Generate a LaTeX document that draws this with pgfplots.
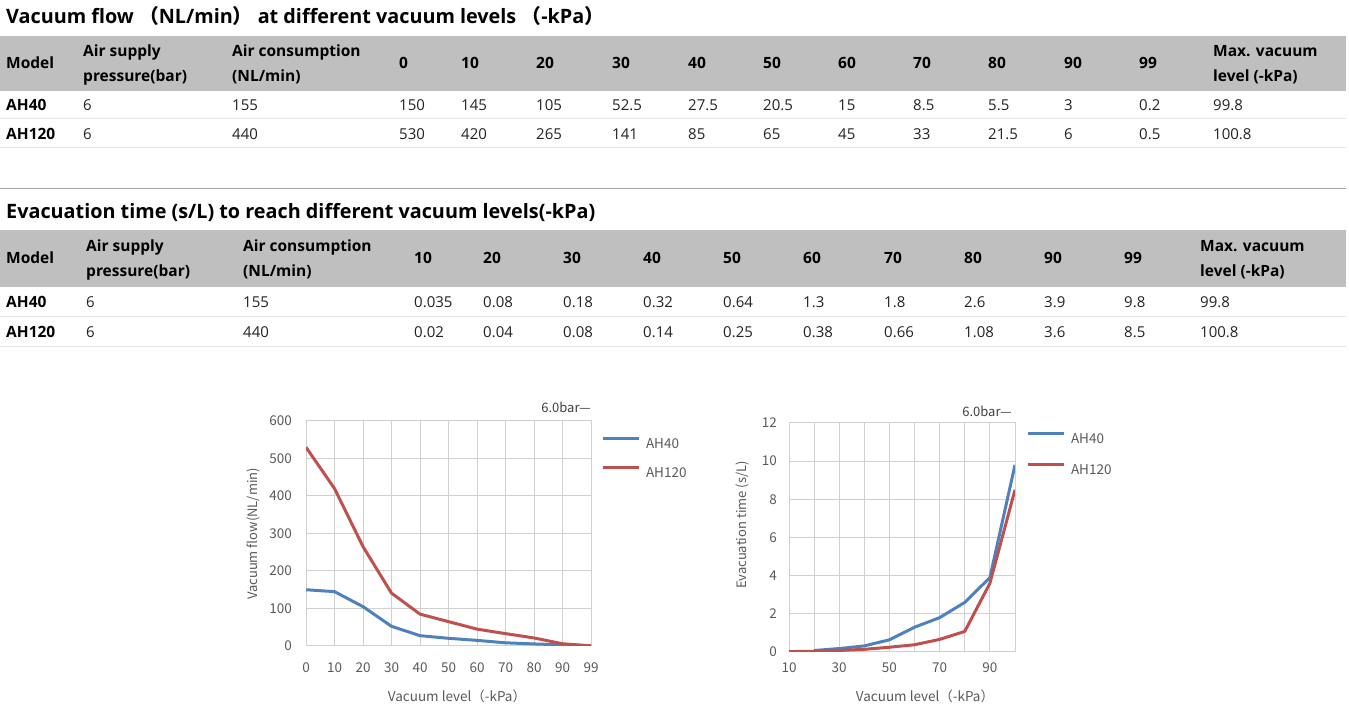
\documentclass[border=0pt]{standalone}
\usepackage{fontspec}
\setmainfont{Open Sans}
\newfontfamily\cjk{Noto Sans CJK SC}
\usepackage{pgfplots}
\usepackage{pgfplotstable}
\pgfplotsset{compat=1.18}
\definecolor{hdr}{HTML}{BFBFBF}
\definecolor{sepc}{HTML}{E6E6E6}
\definecolor{rulec}{HTML}{A6A6A6}
\definecolor{cblue}{HTML}{4F81BD}
\definecolor{cred}{HTML}{C0504D}
\definecolor{gridc}{HTML}{D0D0D0}
\definecolor{txt}{HTML}{595959}
\definecolor{dtxt}{HTML}{222222}
\newcommand\tl[1]{\hbox{\cjk\fontsize{13.5}{16}\selectfont #1}}

\pgfplotstableread{
x A B
0 150 530
1 145 420
2 105 265
3 52.5 141
4 27.5 85
5 20.5 65
6 15 45
7 8.5 33
8 5.5 21.5
9 3 6
10 0.2 0.5
}\flowdata

\pgfplotstableread{
x A B
0 nan 0.02
1 0.08 0.04
2 0.18 0.08
3 0.32 0.14
4 0.64 0.25
5 1.3 0.38
6 1.8 0.66
7 2.6 1.08
8 3.9 3.6
9 9.8 8.5
}\evacdata

\pgfplotsset{
  vchart/.style={
    anchor=south west, scale only axis,
    grid=major, major grid style={gridc, line width=1pt},
    axis line style={gridc, line width=1pt},
    major tick length=0pt, tick style={draw=none},
    /pgf/number format/assume math mode=true,
    tick label style={font=\cjk\fontsize{13.5}{16}\selectfont, text=txt, inner sep=0pt},
    xticklabel style={anchor=center},
    yticklabel style={anchor=east},
    legend cell align=left,
    legend image code/.code={\draw[##1, line width=3pt] (0pt,5pt) -- (36pt,5pt);},
    every axis plot/.append style={line width=3pt, line join=round},
  }
}

\begin{document}
\begin{tikzpicture}[x=1pt,y=1pt,
  hb/.style={anchor=base west, inner sep=0pt, font=\fontsize{15.5}{18}\selectfont\bfseries, text=black},
  dd/.style={anchor=base west, inner sep=0pt, font=\fontsize{15}{18}\selectfont, text=dtxt},
  tt/.style={anchor=base west, inner sep=0pt, font=\fontsize{19.8}{24}\selectfont\bfseries, text=black},
  cl/.style={inner sep=0pt, font=\cjk\fontsize{13}{16}\selectfont, text=txt},
]
\useasboundingbox (0,0) rectangle (1349,723);

% ---------------- Table 1 ----------------
\node[tt] at (6,723-24) {Vacuum flow {\cjk （}NL/min{\cjk ）} at different vacuum levels {\cjk （}-kPa{\cjk ）}};
\fill[hdr] (0,723-36) rectangle (1346,723-91);
\draw[sepc, line width=1pt] (0,723-119) -- (1346,723-119);
\draw[sepc, line width=1pt] (0,723-148) -- (1346,723-148);
\node[hb] at (6,723-69) {Model};
\node[hb] at (83,723-57) {Air supply};
\node[hb] at (83,723-82) {pressure(bar)};
\node[hb] at (232,723-57) {Air consumption};
\node[hb] at (232,723-82) {(NL/min)};
\node[hb] at (1213,723-57) {Max. vacuum};
\node[hb] at (1213,723-82) {level (-kPa)};
\foreach \x/\t in {399/0,461/10,536/20,612/30,688/40,763/50,838/60,913/70,988/80,1064/90,1139/99}
  {\node[hb] at (\x,723-69) {\t};}
\node[hb] at (6,723-111) {AH40};
\node[hb] at (6,723-140) {AH120};
\foreach \x/\t in {83/6,232/155,399/150,461/145,536/105,612/52.5,688/27.5,763/20.5,838/15,913/8.5,988/5.5,1064/3,1139/0.2,1213/99.8}
  {\node[dd] at (\x,723-111) {\t};}
\foreach \x/\t in {83/6,232/440,399/530,461/420,536/265,612/141,688/85,763/65,838/45,913/33,988/21.5,1064/6,1139/0.5,1213/100.8}
  {\node[dd] at (\x,723-140) {\t};}

\draw[rulec, line width=1pt] (0,723-189) -- (1346,723-189);

% ---------------- Table 2 ----------------
\node[tt] at (6,723-219) {Evacuation time (s/L) to reach different vacuum levels(-kPa)};
\fill[hdr] (0,723-230) rectangle (1346,723-287);
\draw[sepc, line width=1pt] (0,723-317) -- (1346,723-317);
\draw[sepc, line width=1pt] (0,723-347) -- (1346,723-347);
\node[hb] at (6,723-264) {Model};
\node[hb] at (86,723-252) {Air supply};
\node[hb] at (86,723-277) {pressure(bar)};
\node[hb] at (243,723-252) {Air consumption};
\node[hb] at (243,723-277) {(NL/min)};
\node[hb] at (1200,723-252) {Max. vacuum};
\node[hb] at (1200,723-277) {level (-kPa)};
\foreach \x/\t in {414/10,483/20,563/30,643/40,723/50,803/60,884/70,964/80,1044/90,1124/99}
  {\node[hb] at (\x,723-264) {\t};}
\node[hb] at (6,723-308) {AH40};
\node[hb] at (6,723-338) {AH120};
\foreach \x/\t in {86/6,243/155,414/0.035,483/0.08,563/0.18,643/0.32,723/0.64,803/1.3,884/1.8,964/2.6,1044/3.9,1124/9.8,1200/99.8}
  {\node[dd] at (\x,723-308) {\t};}
\foreach \x/\t in {86/6,243/440,414/0.02,483/0.04,563/0.08,643/0.14,723/0.25,803/0.38,884/0.66,964/1.08,1044/3.6,1124/8.5,1200/100.8}
  {\node[dd] at (\x,723-338) {\t};}

% ---------------- Chart 1 ----------------
\begin{axis}[vchart,
  at={(306pt,77pt)}, width=285pt, height=225pt,
  xmin=0, xmax=10, ymin=0, ymax=600,
  xtick={0,...,10},
  xticklabels={\tl{0},\tl{10},\tl{20},\tl{30},\tl{40},\tl{50},\tl{60},\tl{70},\tl{80},\tl{90},\tl{99}},
  ytick={0,100,...,600},
  yticklabels={\tl{0},\tl{100},\tl{200},\tl{300},\tl{400},\tl{500},\tl{600}},
  xticklabel style={yshift=-22pt},
  yticklabel style={xshift=-14pt},
  legend style={at={(1.0351,0.9289)}, anchor=north west, draw=none, fill=none,
    inner sep=0pt, outer sep=0pt, row sep=18pt, column sep=6pt,
    font=\cjk\fontsize{13.5}{16}\selectfont, text=txt,
    nodes={inner sep=0pt, text height=10pt, text depth=0pt}},
]
\addplot[cblue] table[x=x,y=A] {\flowdata};
\addlegendentry{AH40}
\addplot[cred] table[x=x,y=B] {\flowdata};
\addlegendentry{AH120}
\end{axis}
\node[cl, rotate=90, anchor=center] at (253,723-534) {Vacuum flow(NL/min)};
\node[cl, anchor=base, font=\cjk\fontsize{13.5}{16}\selectfont] at (457,723-701) {Vacuum level{（}-kPa{）}};
\node[cl, anchor=base east, font=\cjk\fontsize{13}{15}\selectfont, text=black!75] at (591,723-413) {6.0bar—};

% ---------------- Chart 2 ----------------
\begin{axis}[vchart,
  at={(789pt,71pt)}, width=226pt, height=229pt,
  xmin=0, xmax=9, ymin=0, ymax=12,
  xtick={0,...,9},
  xticklabels={\tl{10},,\tl{30},,\tl{50},,\tl{70},,\tl{90},},
  ytick={0,2,...,12},
  yticklabels={\tl{0},\tl{2},\tl{4},\tl{6},\tl{8},\tl{10},\tl{12}},
  xticklabel style={yshift=-16pt},
  yticklabel style={xshift=-12pt},
  legend style={at={(1.0487,0.9607)}, anchor=north west, draw=none, fill=none,
    inner sep=0pt, outer sep=0pt, row sep=20pt, column sep=6pt,
    font=\cjk\fontsize{13.5}{16}\selectfont, text=txt,
    nodes={inner sep=0pt, text height=10pt, text depth=0pt}},
]
\addplot[cblue] table[x=x,y=A] {\evacdata};
\addlegendentry{AH40}
\addplot[cred] table[x=x,y=B] {\evacdata};
\addlegendentry{AH120}
\end{axis}
\node[cl, rotate=90, anchor=center] at (742,723-525) {Evacuation time (s/L)};
\node[cl, anchor=base, font=\cjk\fontsize{13.5}{16}\selectfont] at (925,723-701) {Vacuum level{（}-kPa{）}};
\node[cl, anchor=base east, font=\cjk\fontsize{13}{15}\selectfont, text=black!75] at (1012,723-417) {6.0bar—};
\end{tikzpicture}
\end{document}
